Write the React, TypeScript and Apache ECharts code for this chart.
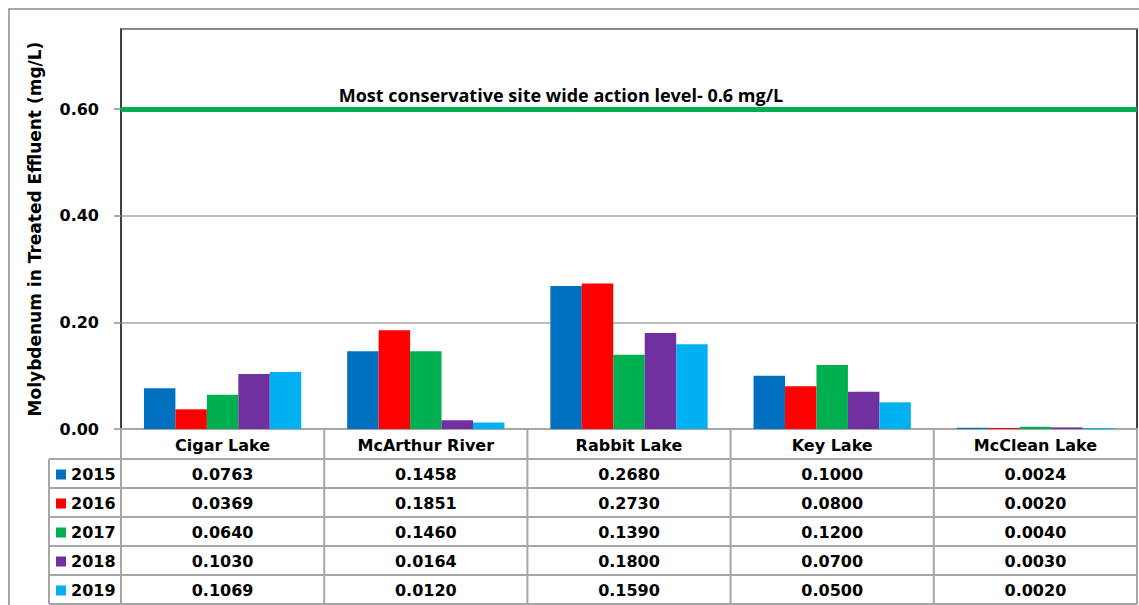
import React, { useEffect, useRef } from "react";
import * as echarts from "echarts";

const categories = ["Cigar Lake", "McArthur River", "Rabbit Lake", "Key Lake", "McClean Lake"];
const years = ["2015", "2016", "2017", "2018", "2019"];
const yearColors = ["#0070C0", "#FF0000", "#00B050", "#7030A0", "#00B0F0"];
const v2015 = [0.0763, 0.1458, 0.268, 0.1, 0.0024];
const v2016 = [0.0369, 0.1851, 0.273, 0.08, 0.002];
const v2017 = [0.064, 0.146, 0.139, 0.12, 0.004];
const v2018 = [0.103, 0.0164, 0.18, 0.07, 0.003];
const v2019 = [0.1069, 0.012, 0.159, 0.05, 0.002];
const seriesValues = [v2015, v2016, v2017, v2018, v2019];
const actionLevel = 0.6;
const actionLabel = "Most conservative site wide action level- 0.6 mg/L";
const yAxisTitle = "Molybdenum in Treated Effluent (mg/L)";

const W = 1139;
const H = 605;
const GL = 121;
const GT = 29;
const GR = 1137;
const GB = 429;
const CAT_ROW_H = 30;
const ROW_H = 29;
const LEG_X = 49;
const FONT = "'DejaVu Sans', sans-serif";
const LABEL_FONT = "'Open Sans', 'Noto Sans', sans-serif";
const LINE_COLOR = "#a6a6a6";

export default function App() {
  const ref = useRef<HTMLDivElement>(null);
  useEffect(() => {
    document.body.style.margin = "0";
    if (!ref.current) return;
    const chart = echarts.init(ref.current, null, { renderer: "svg" });
    const colW = (GR - GL) / categories.length;
    const tableTop = GB + CAT_ROW_H;
    const tableBottom = tableTop + ROW_H * years.length;
    const graphic: any[] = [];
    graphic.push({
      type: "rect",
      silent: true,
      z: -10,
      shape: { x: 9, y: 9, width: 1200, height: 700 },
      style: { fill: "none", stroke: "#8c8c8c", lineWidth: 1.5 },
    });
    for (let r = 0; r <= years.length; r++) {
      const y = tableTop + r * ROW_H;
      graphic.push({
        type: "line",
        silent: true,
        shape: { x1: LEG_X, y1: y, x2: GR, y2: y },
        style: { stroke: LINE_COLOR, lineWidth: 2 },
      });
    }
    graphic.push({
      type: "line",
      silent: true,
      shape: { x1: LEG_X, y1: tableTop, x2: LEG_X, y2: tableBottom },
      style: { stroke: LINE_COLOR, lineWidth: 2 },
    });
    for (let c = 0; c <= categories.length; c++) {
      const x = GL + c * colW;
      graphic.push({
        type: "line",
        silent: true,
        shape: { x1: x, y1: GB, x2: x, y2: tableBottom },
        style: { stroke: LINE_COLOR, lineWidth: 2 },
      });
    }
    years.forEach((yr, r) => {
      const cy = tableTop + (r + 0.5) * ROW_H + 1;
      graphic.push({
        type: "rect",
        silent: true,
        shape: { x: 56, y: cy - 5, width: 10, height: 10 },
        style: { fill: yearColors[r] },
      });
      graphic.push({
        type: "text",
        silent: true,
        x: 71,
        y: cy,
        style: {
          text: yr,
          font: `bold 16px ${FONT}`,
          fill: "#000",
          textAlign: "left",
          textVerticalAlign: "middle",
        },
      });
      seriesValues[r].forEach((v, c) => {
        graphic.push({
          type: "text",
          silent: true,
          x: GL + (c + 0.5) * colW,
          y: cy,
          style: {
            text: v.toFixed(4),
            font: `bold 16px ${FONT}`,
            fill: "#000",
            textAlign: "center",
            textVerticalAlign: "middle",
          },
        });
      });
    });
    graphic.push({
      type: "text",
      silent: true,
      x: 561,
      y: 95,
      style: {
        text: actionLabel,
        font: `bold 18px ${LABEL_FONT}`,
        fill: "#000",
        textAlign: "center",
        textVerticalAlign: "middle",
      },
    });

    chart.setOption({
      animation: false,
      grid: {
        left: GL,
        top: GT,
        right: W - GR,
        bottom: H - GB,
        show: true,
        borderColor: "#000",
        borderWidth: 1.5,
        backgroundColor: "transparent",
      },
      xAxis: {
        type: "category",
        data: categories,
        axisLine: { show: true, lineStyle: { color: LINE_COLOR, width: 2 } },
        axisTick: { show: false },
        axisLabel: {
          margin: 8,
          color: "#000",
          fontWeight: "bold",
          fontSize: 16,
          fontFamily: FONT,
        },
      },
      yAxis: {
        type: "value",
        min: 0,
        max: 0.75,
        interval: 0.2,
        name: yAxisTitle,
        nameLocation: "middle",
        nameGap: 78,
        nameTextStyle: { color: "#000", fontWeight: "bold", fontSize: 17, fontFamily: FONT },
        axisLine: { show: true, lineStyle: { color: "#404040", width: 1.5 } },
        axisTick: { show: true, length: 7, lineStyle: { color: "#8c8c8c", width: 1.5 } },
        axisLabel: {
          margin: 22,
          color: "#000",
          fontWeight: "bold",
          fontSize: 16,
          fontFamily: FONT,
          showMaxLabel: false,
          formatter: (v: number) =>
            Math.abs(v * 5 - Math.round(v * 5)) < 1e-6 ? v.toFixed(2) : "",
        },
        splitLine: { show: true, lineStyle: { color: "#a6a6a6", width: 1.5 } },
      },
      series: years.map((yr, i) => ({
        name: yr,
        type: "bar",
        data: seriesValues[i],
        itemStyle: { color: yearColors[i] },
        barGap: "0%",
        barCategoryGap: "22.6%",
        ...(i === 0
          ? {
              markLine: {
                silent: true,
                symbol: "none",
                label: { show: false },
                lineStyle: { color: "#00B050", width: 5, type: "solid" },
                data: [{ yAxis: actionLevel }],
              },
            }
          : {}),
      })),
      graphic,
    });
    return () => chart.dispose();
  }, []);
  return <div ref={ref} style={{ width: W, height: H }} />;
}
